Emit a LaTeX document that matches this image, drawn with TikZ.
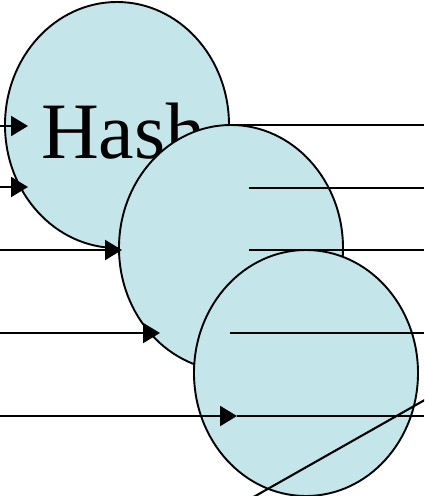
\documentclass[tikz,border=0pt]{standalone}
\usepackage{fontspec}
\setmainfont{Liberation Serif}
\usetikzlibrary{arrows.meta, shapes.geometric}
\definecolor{hashfill}{RGB}{196,230,234}
\tikzset{
  blob/.style={ellipse, draw, fill=hashfill, line width=1.9pt, minimum width=224pt, minimum height=246pt, inner sep=0pt},
  feed/.style={line width=2.1pt, -{Triangle[length=17pt,width=20pt]}},
  wire/.style={line width=2.1pt}
}

\begin{document}
\begin{tikzpicture}[x=1pt, y=-1pt]
\useasboundingbox (0,0) rectangle (424,496);
\clip (0,0) rectangle (424,496);

% the three rounds
\node[blob] (e1) at (117,125) {};
\node[anchor=base west, inner sep=0pt, font=\fontsize{80}{90}\selectfont] (hash) at (41,158) {Hash};
\node[blob] (e2) at (231,248) {};
\node[blob] (e3) at (306,373) {};

% inputs
\coordinate (in1) at (0,126);   \coordinate (tip1) at (28,126);
\coordinate (in2) at (0,187);   \coordinate (tip2) at (28,187);
\coordinate (in3) at (0,250);   \coordinate (tip3) at (122,250);
\coordinate (in4) at (0,333);   \coordinate (tip4) at (160,333);
\coordinate (in5) at (0,416);   \coordinate (tip5) at (237,416);

\draw[feed] (in1) -- (tip1);
\draw[feed] (in2) -- (tip2);
\draw[feed] (in3) -- (tip3);
\draw[feed] (in4) -- (tip4);
\draw[feed] (in5) -- (tip5);

% outputs
\coordinate (out1) at (424,125);
\coordinate (src2) at (249,188);  \coordinate (out2) at (424,188);
\coordinate (src3) at (249,250);  \coordinate (out3) at (424,250);
\coordinate (src4) at (230,333);  \coordinate (out4) at (424,333);
\coordinate (out5) at (424,416);

\draw[wire] (e1.east) -- (out1);
\draw[wire] (src2) -- (out2);
\draw[wire] (src3) -- (out3);
\draw[wire] (src4) -- (out4);
\draw[wire] (tip5) -- (out5);

% slanted line
\coordinate (cutA) at (220,516);
\coordinate (cutB) at (460,380);
\draw[wire] (cutA) -- (cutB);
\end{tikzpicture}
\end{document}
